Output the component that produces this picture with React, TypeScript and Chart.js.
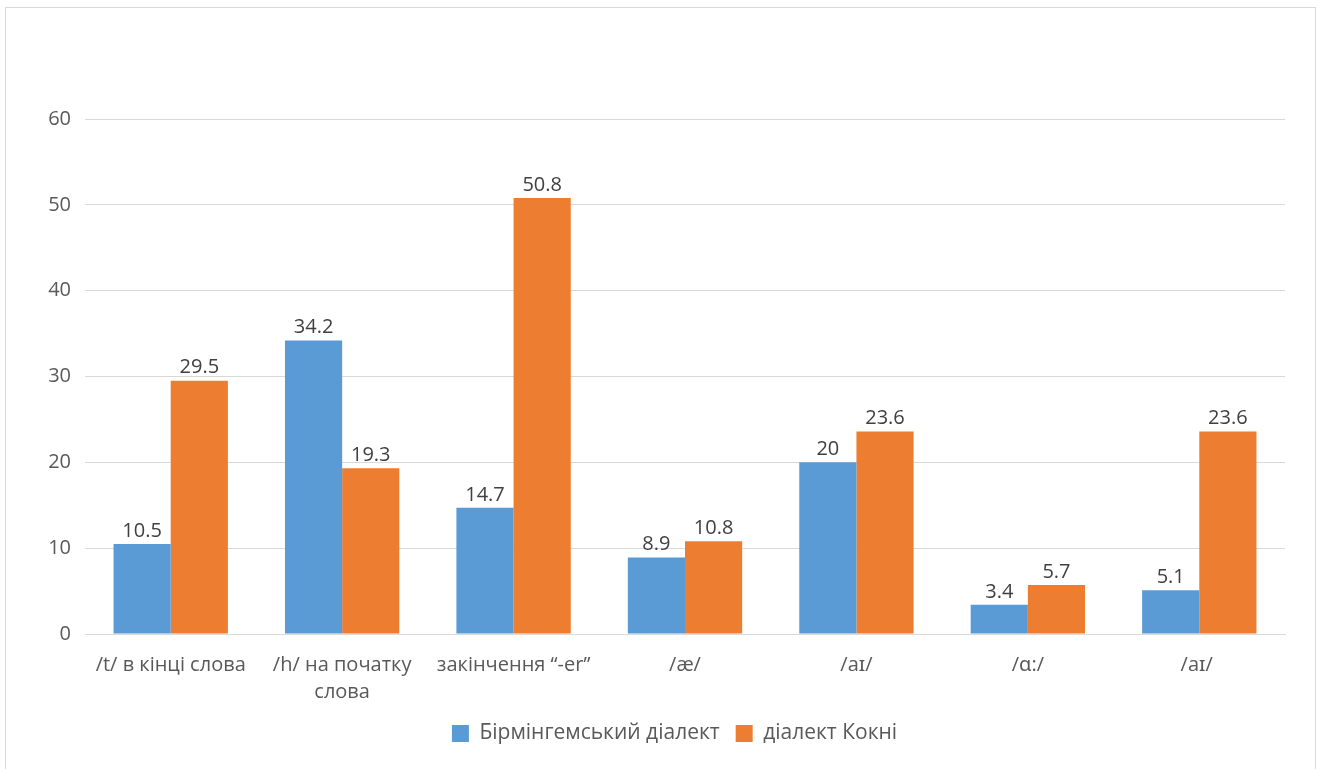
import React, { useEffect, useRef } from "react";
import { Chart, registerables } from "chart.js";

Chart.register(...registerables);

const categories: (string | string[])[] = [
  "/t/ в кінці слова",
  ["/h/ на початку", "слова"],
  "закінчення “-er”",
  "/æ/",
  "/aɪ/",
  "/ɑ:/",
  "/aɪ/ ",
];
const seriesNames = ["Бірмінгемський діалект", "діалект Кокні"];
const birmingham = [10.5, 34.2, 14.7, 8.9, 20, 3.4, 5.1];
const cockney = [29.5, 19.3, 50.8, 10.8, 23.6, 5.7, 23.6];
const yTicks = [0, 10, 20, 30, 40, 50, 60];

const FONT = "'Open Sans', 'Noto Sans', sans-serif";

const dataLabels = {
  id: "dataLabels",
  afterDatasetsDraw(chart: any) {
    const ctx = chart.ctx;
    ctx.save();
    ctx.font = `20px ${FONT}`;
    ctx.fillStyle = "#404040";
    ctx.textAlign = "center";
    ctx.textBaseline = "bottom";
    chart.data.datasets.forEach((ds: any, i: number) => {
      const meta = chart.getDatasetMeta(i);
      meta.data.forEach((el: any, j: number) => {
        ctx.fillText(String(ds.data[j]), el.x, el.y - 3);
      });
    });
    ctx.restore();
  },
};

const legendShift = {
  id: "legendShift",
  afterLayout(chart: any) {
    if (chart.legend) {
      chart.legend.left += 22;
      chart.legend.right += 22;
    }
  },
};

export default function App() {
  const ref = useRef<HTMLCanvasElement>(null);
  useEffect(() => {
    if (!ref.current) return;
    const chart = new Chart(ref.current, {
      type: "bar",
      data: {
        labels: categories,
        datasets: [
          {
            label: seriesNames[0],
            data: birmingham,
            backgroundColor: "#5B9BD5",
            categoryPercentage: 0.667,
            barPercentage: 1,
          },
          {
            label: seriesNames[1],
            data: cockney,
            backgroundColor: "#ED7D31",
            categoryPercentage: 0.667,
            barPercentage: 1,
          },
        ],
      },
      options: {
        animation: false,
        responsive: false,
        maintainAspectRatio: false,
        layout: { padding: { left: 20, right: 39, top: 119, bottom: 15 } },
        plugins: {
          tooltip: { enabled: false },
          legend: {
            position: "bottom",
            labels: {
              boxWidth: 17,
              boxHeight: 17,
              padding: 16,
              color: "#595959",
              font: { family: FONT, size: 21 },
            },
          },
        },
        scales: {
          x: {
            grid: { display: false, drawTicks: false },
            border: { display: true, color: "#D9D9D9", width: 1 },
            ticks: {
              color: "#595959",
              font: { family: FONT, size: 20, lineHeight: 1.35 },
              padding: 18,
              maxRotation: 0,
              autoSkip: false,
            },
            afterFit(scale: any) {
              scale.height = 73;
            },
          },
          y: {
            min: 0,
            max: 60,
            afterBuildTicks(scale: any) {
              scale.ticks = yTicks.map((v) => ({ value: v }));
            },
            grid: { color: "#D9D9D9", drawTicks: false, lineWidth: 1 },
            border: { display: false },
            ticks: {
              color: "#595959",
              font: { family: FONT, size: 20 },
              padding: 14,
            },
            afterFit(scale: any) {
              scale.width = 65;
            },
          },
        },
      },
      plugins: [dataLabels, legendShift],
    });
    return () => chart.destroy();
  }, []);

  return (
    <div style={{ position: "fixed", left: 0, top: 0, width: 1324, height: 769, background: "#fff", overflow: "hidden" }}>
      <div
        style={{
          position: "absolute",
          left: 5,
          top: 7,
          width: 1311,
          height: 800,
          border: "1px solid #D9D9D9",
          boxSizing: "border-box",
        }}
      />
      <canvas ref={ref} width={1324} height={769} style={{ position: "absolute", left: 0, top: 0 }} />
    </div>
  );
}
